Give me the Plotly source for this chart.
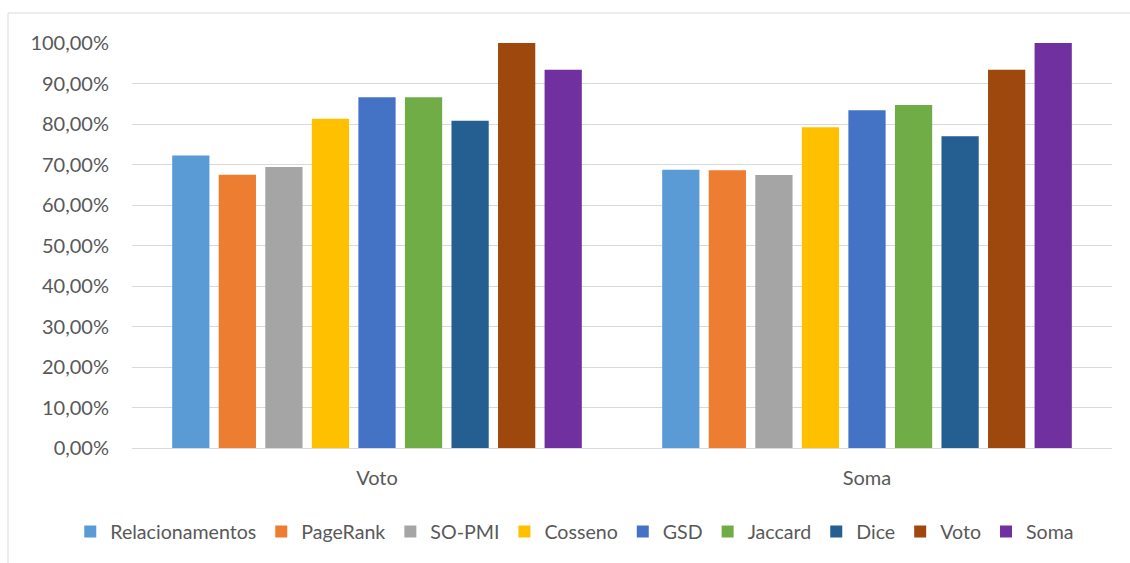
import plotly.graph_objects as go

# Grouping methods on the x axis
groups = ["Voto", "Soma"]

# Accuracy per similarity measure, one value per group
series_names = ["Relacionamentos", "PageRank", "SO-PMI", "Cosseno", "GSD",
                "Jaccard", "Dice", "Voto", "Soma"]
relacionamentos = [0.722, 0.687]
pagerank = [0.675, 0.686]
so_pmi = [0.694, 0.674]
cosseno = [0.813, 0.792]
gsd = [0.866, 0.834]
jaccard = [0.866, 0.847]
dice = [0.808, 0.770]
voto = [1.000, 0.934]
soma = [0.934, 1.000]

series_values = [relacionamentos, pagerank, so_pmi, cosseno, gsd,
                 jaccard, dice, voto, soma]
colors = ["#5B9BD5", "#ED7D31", "#A5A5A5", "#FFC000", "#4472C4",
          "#70AD47", "#255E91", "#9E480E", "#7030A0"]

y_ticks = [i / 10 for i in range(11)]

fig = go.Figure()
for name, vals, col in zip(series_names, series_values, colors):
    fig.add_trace(go.Bar(
        name=name, x=groups, y=vals,
        marker=dict(color=col, line=dict(width=0)),
    ))

font_family = "Lato, 'Open Sans', sans-serif"
text_color = "#595959"

fig.update_layout(
    width=1130, height=563,
    margin=dict(l=132, r=18, t=43, b=115, autoexpand=False),
    paper_bgcolor="white", plot_bgcolor="white",
    barmode="group", bargap=0.145, bargroupgap=0.2,
    separators=",.",
    font=dict(family=font_family, size=20, color=text_color),
    showlegend=True,
    legend=dict(
        orientation="h", x=-0.063, xanchor="left", y=-0.207, yanchor="middle",
        font=dict(family=font_family, size=19.6, color=text_color),
        itemwidth=30, tracegroupgap=0, itemclick=False,
    ),
    xaxis=dict(
        showgrid=False, showline=True, linecolor="#d9d9d9", linewidth=1,
        ticks="", ticklabelstandoff=12,
        tickfont=dict(size=20, color=text_color),
    ),
    yaxis=dict(
        range=[0, 1], tickvals=y_ticks, tickformat=".2%",
        showgrid=True, gridcolor="#d9d9d9", gridwidth=1,
        zeroline=False, showline=False, ticks="", ticklen=0,
        ticklabelstandoff=22,
        tickfont=dict(size=20, color=text_color),
    ),
    shapes=[dict(
        type="rect", xref="paper", yref="paper",
        x0=(8 - 132) / 980, x1=1.2, y0=-0.5, y1=(448 - 13) / 405,
        line=dict(color="#d9d9d9", width=1), fillcolor="rgba(0,0,0,0)",
        layer="below",
    )],
)

fig.write_html("out.html")
